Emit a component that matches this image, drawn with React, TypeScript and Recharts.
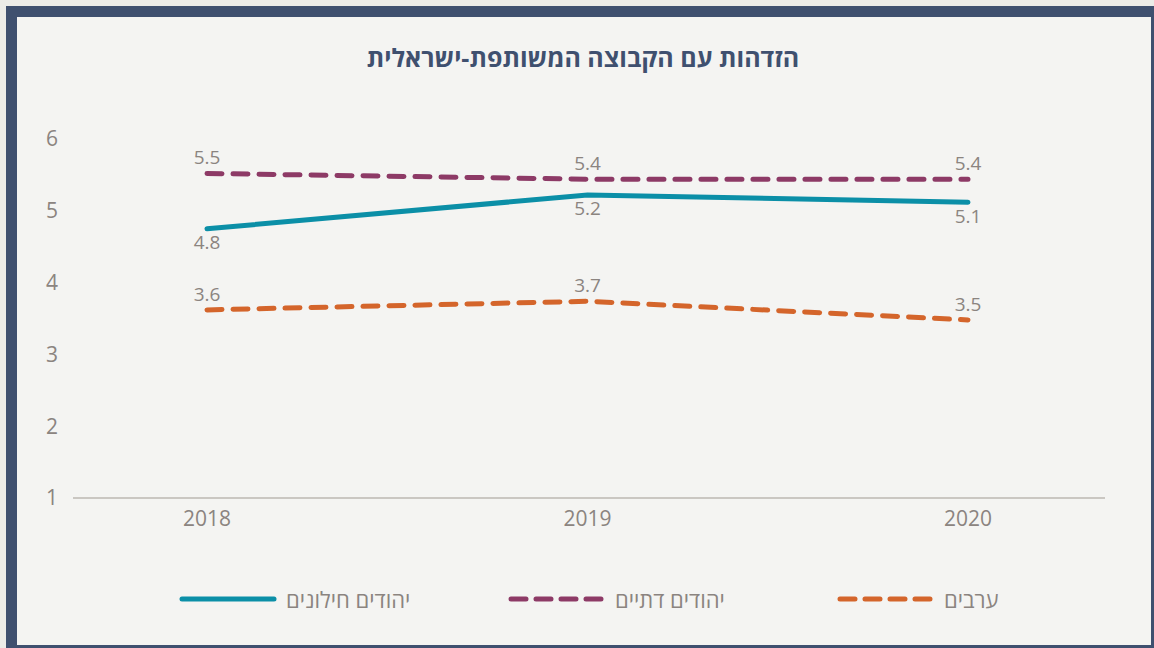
import React from 'react';
import { LineChart, Line, XAxis, YAxis, LabelList } from 'recharts';

const years = ['2018', '2019', '2020'];
const secular = [4.75, 5.22, 5.12];
const religious = [5.52, 5.44, 5.44];
const arabs = [3.62, 3.74, 3.48];
const yTicks = [1, 2, 3, 4, 5, 6];

const title = 'הזדהות עם הקבוצה המשותפת-ישראלית';

const series = [
  { key: 'secular', name: 'יהודים חילונים', color: '#0b8fa7', dash: undefined as string | undefined, labelPos: 'bottom' as const },
  { key: 'religious', name: 'יהודים דתיים', color: '#8d3a66', dash: '15 11', labelPos: 'top' as const },
  { key: 'arabs', name: 'ערבים', color: '#d4652b', dash: '15 11', labelPos: 'top' as const },
];

const data = years.map((year, i) => ({
  year,
  secular: secular[i],
  religious: religious[i],
  arabs: arabs[i],
}));

const FONT = '"Open Sans", "Liberation Sans", "DejaVu Sans", sans-serif';
const GREY = '#8b8480';

function CustomLegend() {
  return (
    <div style={{ position: 'absolute', left: 177, top: 584, display: 'flex', fontFamily: FONT }}>
      {series.map((s) => (
        <div key={s.key} style={{ display: 'flex', alignItems: 'center', width: 329 }}>
          <svg width={100} height={10} style={{ display: 'block' }}>
            <line
              x1={5}
              y1={5}
              x2={97}
              y2={5}
              stroke={s.color}
              strokeWidth={5}
              strokeLinecap="round"
              strokeDasharray={s.dash ? '15 10' : undefined}
            />
          </svg>
          <span dir="rtl" style={{ marginLeft: 9, fontSize: 22, color: GREY }}>{s.name}</span>
        </div>
      ))}
    </div>
  );
}

export default function App() {
  return (
    <div style={{ position: 'fixed', left: 0, top: 0, width: 1154, height: 648, background: '#ecece8', overflow: 'hidden' }}>
      <div
        style={{
          position: 'absolute',
          left: 6,
          top: 6,
          width: 1148,
          height: 642,
          boxSizing: 'border-box',
          borderLeft: '11px solid #3f506f',
          borderTop: '11px solid #3f506f',
          borderRight: '3px solid #3f506f',
          borderBottom: '3px solid #3f506f',
          background: '#f4f4f2',
        }}
      />
      <div
        dir="rtl"
        style={{
          position: 'absolute',
          left: 0,
          top: 40,
          width: 1166,
          textAlign: 'center',
          fontFamily: FONT,
          fontWeight: 700,
          fontSize: 25,
          color: '#3f506f',
        }}
      >
        {title}
      </div>
      <div style={{ position: 'absolute', left: 0, top: 0 }}>
        <LineChart width={1154} height={648} data={data} margin={{ top: 139, right: 49, bottom: 90, left: 20 }}>
          <XAxis
            dataKey="year"
            padding={{ left: 134, right: 137 }}
            axisLine={{ stroke: '#bdb8b2', strokeWidth: 1.5 }}
            tickLine={false}
            tickMargin={7}
            tick={{ fontSize: 21, fill: GREY, fontFamily: FONT }}
            height={60}
          />
          <YAxis
            domain={[1, 6]}
            ticks={yTicks}
            axisLine={false}
            tickLine={false}
            tickMargin={9}
            width={53}
            tick={{ fontSize: 21, fill: GREY, fontFamily: FONT }}
          />
          {series.map((s) => (
            <Line
              key={s.key}
              dataKey={s.key}
              name={s.name}
              type="linear"
              stroke={s.color}
              strokeWidth={5}
              strokeLinecap="round"
              strokeDasharray={s.dash}
              dot={false}
              activeDot={false}
              isAnimationActive={false}
            >
              <LabelList
                dataKey={s.key}
                position={s.labelPos}
                offset={s.labelPos === 'top' ? 9 : 7}
                formatter={(v: any) => Number(v).toFixed(1)}
                style={{ fontSize: 19, fill: GREY, fontFamily: FONT }}
              />
            </Line>
          ))}
        </LineChart>
      </div>
      <CustomLegend />
    </div>
  );
}
